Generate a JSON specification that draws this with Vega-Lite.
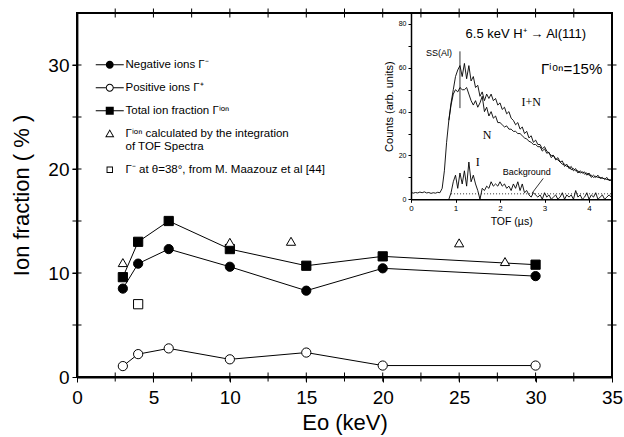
{
  "$schema": "https://vega.github.io/schema/vega-lite/v6.json",
  "width": 535,
  "height": 364,
  "autosize": "none",
  "padding": {"left": 77, "top": 13, "right": 12, "bottom": 60},
  "background": "white",
  "config": {
    "view": {"stroke": "black", "strokeWidth": 2},
    "font": "Liberation Sans",
    "axis": {"grid": false, "domainColor": "black", "domainWidth": 1.8, "tickColor": "black", "tickWidth": 1, "labelColor": "black", "titleColor": "black", "titleFontWeight": "normal", "labelFont": "Liberation Sans", "titleFont": "Liberation Sans", "labelFlush": false, "labelOverlap": false}
  },
  "datasets": {
    "main": [
      {"E": 3, "f": 8.5, "s": "neg"}, {"E": 4, "f": 10.9, "s": "neg"}, {"E": 6, "f": 12.3, "s": "neg"}, {"E": 10, "f": 10.6, "s": "neg"}, {"E": 15, "f": 8.3, "s": "neg"}, {"E": 20, "f": 10.45, "s": "neg"}, {"E": 30, "f": 9.7, "s": "neg"},
      {"E": 3, "f": 1.05, "s": "pos"}, {"E": 4, "f": 2.2, "s": "pos"}, {"E": 6, "f": 2.75, "s": "pos"}, {"E": 10, "f": 1.7, "s": "pos"}, {"E": 15, "f": 2.35, "s": "pos"}, {"E": 20, "f": 1.1, "s": "pos"}, {"E": 30, "f": 1.1, "s": "pos"},
      {"E": 3, "f": 9.6, "s": "tot"}, {"E": 4, "f": 13.0, "s": "tot"}, {"E": 6, "f": 15.0, "s": "tot"}, {"E": 10, "f": 12.3, "s": "tot"}, {"E": 15, "f": 10.7, "s": "tot"}, {"E": 20, "f": 11.6, "s": "tot"}, {"E": 30, "f": 10.8, "s": "tot"},
      {"E": 3, "f": 11.0, "s": "tof"}, {"E": 10, "f": 12.95, "s": "tof"}, {"E": 14, "f": 13.05, "s": "tof"}, {"E": 25, "f": 12.9, "s": "tof"}, {"E": 28, "f": 11.1, "s": "tof"},
      {"E": 4, "f": 7.0, "s": "maz"}
    ],
    "frame": [
      {"a": 0, "b": 35, "a2": 35, "b2": 35},
      {"a": 35, "b": 0, "a2": 35, "b2": 35}
    ],
    "xt": [{"v": 2.5}, {"v": 5}, {"v": 7.5}, {"v": 10}, {"v": 12.5}, {"v": 15}, {"v": 17.5}, {"v": 20}, {"v": 22.5}, {"v": 25}, {"v": 27.5}, {"v": 30}, {"v": 32.5}],
    "yt": [{"v": 5}, {"v": 10}, {"v": 15}, {"v": 20}, {"v": 25}, {"v": 30}],
    "spec": [
      {"t": 0, "c": 3.2, "k": "IN"}, {"t": 0.05, "c": 2.8, "k": "IN"}, {"t": 0.1, "c": 3.1, "k": "IN"}, {"t": 0.15, "c": 2.9, "k": "IN"}, {"t": 0.2, "c": 3.3, "k": "IN"}, {"t": 0.25, "c": 3.0, "k": "IN"}, {"t": 0.3, "c": 3.4, "k": "IN"}, {"t": 0.35, "c": 2.9, "k": "IN"}, {"t": 0.4, "c": 3.1, "k": "IN"}, {"t": 0.45, "c": 2.7, "k": "IN"}, {"t": 0.5, "c": 3.0, "k": "IN"}, {"t": 0.55, "c": 2.8, "k": "IN"}, {"t": 0.6, "c": 3.2, "k": "IN"}, {"t": 0.65, "c": 3.0, "k": "IN"}, {"t": 0.7, "c": 5, "k": "IN"}, {"t": 0.75, "c": 13, "k": "IN"}, {"t": 0.8, "c": 26, "k": "IN"}, {"t": 0.85, "c": 36, "k": "IN"}, {"t": 0.9, "c": 44, "k": "IN"}, {"t": 0.95, "c": 50, "k": "IN"}, {"t": 1.0, "c": 56, "k": "IN"}, {"t": 1.05, "c": 59, "k": "IN"}, {"t": 1.1, "c": 61, "k": "IN"}, {"t": 1.15, "c": 56, "k": "IN"}, {"t": 1.2, "c": 62, "k": "IN"}, {"t": 1.25, "c": 55, "k": "IN"}, {"t": 1.3, "c": 61, "k": "IN"}, {"t": 1.35, "c": 54, "k": "IN"}, {"t": 1.4, "c": 56, "k": "IN"}, {"t": 1.45, "c": 51, "k": "IN"}, {"t": 1.5, "c": 52, "k": "IN"}, {"t": 1.55, "c": 47, "k": "IN"}, {"t": 1.6, "c": 49, "k": "IN"}, {"t": 1.65, "c": 45, "k": "IN"}, {"t": 1.7, "c": 48, "k": "IN"}, {"t": 1.75, "c": 46, "k": "IN"}, {"t": 1.8, "c": 48, "k": "IN"}, {"t": 1.85, "c": 45, "k": "IN"}, {"t": 1.9, "c": 46, "k": "IN"}, {"t": 1.95, "c": 43, "k": "IN"}, {"t": 2.0, "c": 44, "k": "IN"}, {"t": 2.05, "c": 41, "k": "IN"}, {"t": 2.1, "c": 42, "k": "IN"}, {"t": 2.15, "c": 39, "k": "IN"}, {"t": 2.2, "c": 40, "k": "IN"}, {"t": 2.25, "c": 37, "k": "IN"}, {"t": 2.3, "c": 36, "k": "IN"}, {"t": 2.35, "c": 34, "k": "IN"}, {"t": 2.4, "c": 35, "k": "IN"}, {"t": 2.45, "c": 32, "k": "IN"}, {"t": 2.5, "c": 33, "k": "IN"}, {"t": 2.55, "c": 30, "k": "IN"}, {"t": 2.6, "c": 31, "k": "IN"}, {"t": 2.65, "c": 28, "k": "IN"}, {"t": 2.7, "c": 29, "k": "IN"}, {"t": 2.75, "c": 26, "k": "IN"}, {"t": 2.8, "c": 27, "k": "IN"}, {"t": 2.85, "c": 25, "k": "IN"}, {"t": 2.9, "c": 25, "k": "IN"}, {"t": 2.95, "c": 23, "k": "IN"}, {"t": 3.0, "c": 24, "k": "IN"}, {"t": 3.05, "c": 22, "k": "IN"}, {"t": 3.1, "c": 21, "k": "IN"}, {"t": 3.15, "c": 20, "k": "IN"}, {"t": 3.2, "c": 20, "k": "IN"}, {"t": 3.25, "c": 18, "k": "IN"}, {"t": 3.3, "c": 19, "k": "IN"}, {"t": 3.35, "c": 17, "k": "IN"}, {"t": 3.4, "c": 17.5, "k": "IN"}, {"t": 3.45, "c": 15, "k": "IN"}, {"t": 3.5, "c": 16, "k": "IN"}, {"t": 3.55, "c": 14, "k": "IN"}, {"t": 3.6, "c": 15, "k": "IN"}, {"t": 3.65, "c": 13, "k": "IN"}, {"t": 3.7, "c": 14, "k": "IN"}, {"t": 3.75, "c": 12, "k": "IN"}, {"t": 3.8, "c": 13, "k": "IN"}, {"t": 3.85, "c": 12, "k": "IN"}, {"t": 3.9, "c": 12.5, "k": "IN"}, {"t": 3.95, "c": 11, "k": "IN"}, {"t": 4.0, "c": 12, "k": "IN"}, {"t": 4.05, "c": 10, "k": "IN"}, {"t": 4.1, "c": 11, "k": "IN"}, {"t": 4.15, "c": 10, "k": "IN"}, {"t": 4.2, "c": 11, "k": "IN"}, {"t": 4.25, "c": 9.5, "k": "IN"}, {"t": 4.3, "c": 10, "k": "IN"}, {"t": 4.35, "c": 9, "k": "IN"}, {"t": 4.4, "c": 10, "k": "IN"}, {"t": 4.45, "c": 8.5, "k": "IN"}, {"t": 4.5, "c": 9, "k": "IN"},
      {"t": 0.85, "c": 36, "k": "N"}, {"t": 0.9, "c": 43, "k": "N"}, {"t": 0.95, "c": 48, "k": "N"}, {"t": 1.0, "c": 50, "k": "N"}, {"t": 1.05, "c": 49, "k": "N"}, {"t": 1.1, "c": 51, "k": "N"}, {"t": 1.15, "c": 50, "k": "N"}, {"t": 1.2, "c": 50, "k": "N"}, {"t": 1.25, "c": 51, "k": "N"}, {"t": 1.3, "c": 48, "k": "N"}, {"t": 1.35, "c": 45, "k": "N"}, {"t": 1.4, "c": 43, "k": "N"}, {"t": 1.45, "c": 45, "k": "N"}, {"t": 1.5, "c": 42, "k": "N"}, {"t": 1.55, "c": 44, "k": "N"}, {"t": 1.6, "c": 47, "k": "N"}, {"t": 1.65, "c": 40, "k": "N"}, {"t": 1.7, "c": 42, "k": "N"}, {"t": 1.75, "c": 38, "k": "N"}, {"t": 1.8, "c": 40, "k": "N"}, {"t": 1.85, "c": 37, "k": "N"}, {"t": 1.9, "c": 38, "k": "N"}, {"t": 1.95, "c": 35, "k": "N"}, {"t": 2.0, "c": 35, "k": "N"}, {"t": 2.05, "c": 34, "k": "N"}, {"t": 2.1, "c": 33, "k": "N"}, {"t": 2.15, "c": 33.5, "k": "N"}, {"t": 2.2, "c": 32, "k": "N"}, {"t": 2.25, "c": 32, "k": "N"}, {"t": 2.3, "c": 31, "k": "N"}, {"t": 2.35, "c": 31, "k": "N"}, {"t": 2.4, "c": 30, "k": "N"}, {"t": 2.45, "c": 30, "k": "N"}, {"t": 2.5, "c": 29, "k": "N"}, {"t": 2.55, "c": 28, "k": "N"}, {"t": 2.6, "c": 27.5, "k": "N"}, {"t": 2.65, "c": 26.5, "k": "N"}, {"t": 2.7, "c": 26, "k": "N"}, {"t": 2.75, "c": 25, "k": "N"}, {"t": 2.8, "c": 25, "k": "N"}, {"t": 2.85, "c": 24, "k": "N"}, {"t": 2.9, "c": 24, "k": "N"}, {"t": 2.95, "c": 22, "k": "N"}, {"t": 3.0, "c": 23, "k": "N"}, {"t": 3.05, "c": 21, "k": "N"}, {"t": 3.1, "c": 21.5, "k": "N"}, {"t": 3.15, "c": 19, "k": "N"}, {"t": 3.2, "c": 20, "k": "N"}, {"t": 3.25, "c": 18.5, "k": "N"}, {"t": 3.3, "c": 18, "k": "N"}, {"t": 3.35, "c": 17, "k": "N"}, {"t": 3.4, "c": 16, "k": "N"}, {"t": 3.45, "c": 16, "k": "N"}, {"t": 3.5, "c": 15, "k": "N"}, {"t": 3.55, "c": 15, "k": "N"}, {"t": 3.6, "c": 13.5, "k": "N"}, {"t": 3.65, "c": 14, "k": "N"}, {"t": 3.7, "c": 13, "k": "N"}, {"t": 3.75, "c": 13, "k": "N"}, {"t": 3.8, "c": 12, "k": "N"}, {"t": 3.85, "c": 12.5, "k": "N"}, {"t": 3.9, "c": 11.5, "k": "N"}, {"t": 3.95, "c": 12, "k": "N"}, {"t": 4.0, "c": 11, "k": "N"}, {"t": 4.05, "c": 11, "k": "N"}, {"t": 4.1, "c": 10, "k": "N"}, {"t": 4.15, "c": 10.5, "k": "N"}, {"t": 4.2, "c": 10, "k": "N"}, {"t": 4.25, "c": 10, "k": "N"}, {"t": 4.3, "c": 9.5, "k": "N"}, {"t": 4.35, "c": 9.5, "k": "N"}, {"t": 4.4, "c": 9, "k": "N"}, {"t": 4.45, "c": 9, "k": "N"}, {"t": 4.5, "c": 8.5, "k": "N"},
      {"t": 0.85, "c": 0, "k": "I"}, {"t": 0.9, "c": 3, "k": "I"}, {"t": 0.95, "c": 8, "k": "I"}, {"t": 1.0, "c": 11, "k": "I"}, {"t": 1.05, "c": 5, "k": "I"}, {"t": 1.1, "c": 12, "k": "I"}, {"t": 1.15, "c": 7, "k": "I"}, {"t": 1.2, "c": 13, "k": "I"}, {"t": 1.25, "c": 6, "k": "I"}, {"t": 1.3, "c": 17, "k": "I"}, {"t": 1.35, "c": 8, "k": "I"}, {"t": 1.4, "c": 11, "k": "I"}, {"t": 1.45, "c": 7, "k": "I"}, {"t": 1.5, "c": 4, "k": "I"}, {"t": 1.55, "c": 0, "k": "I"}, {"t": 1.6, "c": 5, "k": "I"}, {"t": 1.65, "c": 4, "k": "I"}, {"t": 1.7, "c": 6, "k": "I"}, {"t": 1.75, "c": 5, "k": "I"}, {"t": 1.8, "c": 8, "k": "I"}, {"t": 1.85, "c": 6, "k": "I"}, {"t": 1.9, "c": 7, "k": "I"}, {"t": 1.95, "c": 6, "k": "I"}, {"t": 2.0, "c": 8, "k": "I"}, {"t": 2.05, "c": 6, "k": "I"}, {"t": 2.1, "c": 7, "k": "I"}, {"t": 2.15, "c": 5, "k": "I"}, {"t": 2.2, "c": 6, "k": "I"}, {"t": 2.25, "c": 4, "k": "I"}, {"t": 2.3, "c": 7, "k": "I"}, {"t": 2.35, "c": 5, "k": "I"}, {"t": 2.4, "c": 8, "k": "I"}, {"t": 2.45, "c": 4, "k": "I"}, {"t": 2.5, "c": 7, "k": "I"}, {"t": 2.55, "c": 3, "k": "I"}, {"t": 2.6, "c": 4, "k": "I"}, {"t": 2.65, "c": 2, "k": "I"}, {"t": 2.7, "c": 1, "k": "I"}, {"t": 2.75, "c": 3, "k": "I"}, {"t": 2.8, "c": 2, "k": "I"}, {"t": 2.85, "c": 1, "k": "I"}, {"t": 2.9, "c": 2, "k": "I"}, {"t": 2.95, "c": 0, "k": "I"}, {"t": 3.0, "c": 3, "k": "I"}, {"t": 3.05, "c": 1, "k": "I"}, {"t": 3.1, "c": 2, "k": "I"}, {"t": 3.15, "c": 0, "k": "I"}, {"t": 3.2, "c": 1, "k": "I"}, {"t": 3.25, "c": 2, "k": "I"}, {"t": 3.3, "c": 0, "k": "I"}, {"t": 3.35, "c": 1, "k": "I"}, {"t": 3.4, "c": 3, "k": "I"}, {"t": 3.45, "c": 0, "k": "I"}, {"t": 3.5, "c": 2, "k": "I"}, {"t": 3.55, "c": 1, "k": "I"}, {"t": 3.6, "c": 2, "k": "I"}, {"t": 3.65, "c": 0, "k": "I"}, {"t": 3.7, "c": 4, "k": "I"}, {"t": 3.75, "c": 1, "k": "I"}, {"t": 3.8, "c": 2, "k": "I"}, {"t": 3.85, "c": 0, "k": "I"}, {"t": 3.9, "c": 1, "k": "I"}, {"t": 3.95, "c": 3, "k": "I"}, {"t": 4.0, "c": 0, "k": "I"}, {"t": 4.05, "c": 2, "k": "I"}, {"t": 4.1, "c": 1, "k": "I"}, {"t": 4.15, "c": 3, "k": "I"}, {"t": 4.2, "c": 0, "k": "I"}, {"t": 4.25, "c": 1, "k": "I"}, {"t": 4.3, "c": 2, "k": "I"}, {"t": 4.35, "c": 0, "k": "I"}, {"t": 4.4, "c": 1, "k": "I"}, {"t": 4.45, "c": 2, "k": "I"}, {"t": 4.5, "c": 1, "k": "I"}
    ],
    "bg": [{"t": 0.9, "c": 2.5}, {"t": 4.5, "c": 2.5}],
    "rules": [
      {"t": 1.1, "c": 41.6, "t2": 1.1, "c2": 67.5},
      {"t": 2.97, "c": 9.5, "t2": 2.72, "c2": 2.8}
    ],
    "notes": [
      {"t": 2.58, "c": 75.5, "txt": "6.5 keV H⁺ → Al(111)", "g": "big"},
      {"t": 3.61, "c": 59.5, "txt": "Γⁱᵒⁿ=15%", "g": "big2"},
      {"t": 0.63, "c": 66.7, "txt": "SS(Al)", "g": "small"},
      {"t": 2.6, "c": 12.3, "txt": "Background", "g": "small"},
      {"t": 2.7, "c": 44.2, "txt": "I+N", "g": "serif"},
      {"t": 1.71, "c": 29.4, "txt": "N", "g": "serif"},
      {"t": 1.5, "c": 17.2, "txt": "I", "g": "serif"}
    ]
  },
  "layer": [
    {
      "data": {"name": "main"},
      "transform": [{"filter": "indexof(['neg','pos','tot'], datum.s) >= 0"}],
      "mark": {"type": "line", "color": "black", "strokeWidth": 1},
      "encoding": {
        "x": {"field": "E", "type": "quantitative", "scale": {"domain": [0, 35], "nice": false, "zero": false},
          "axis": {"orient": "bottom", "domain": true, "domainColor": "black", "domainWidth": 1.8, "domainOpacity": 1, "ticks": true, "tickSize": 5, "tickColor": "black",
            "values": [0, 5, 10, 15, 20, 25, 30, 35],
            "labelFontSize": 19, "labelPadding": 6, "title": "Eo (keV)", "titleFontSize": 22, "titlePadding": 5}},
        "y": {"field": "f", "type": "quantitative", "scale": {"domain": [0, 35], "nice": false, "zero": false},
          "axis": {"orient": "left", "domain": true, "domainColor": "black", "domainWidth": 1.8, "domainOpacity": 1, "ticks": true, "tickColor": "black", "tickWidth": 1, "tickOpacity": 1, "tickSize": 5,
            "values": [0, 10, 20, 30],
            "labelFontSize": 19, "labelPadding": 3, "title": "Ion fraction ( % )", "titleFontSize": 22, "titlePadding": 14}},
        "detail": {"field": "s", "type": "nominal"}
      }
    },
    {
      "data": {"name": "frame"},
      "mark": {"type": "rule", "color": "black", "strokeWidth": 2},
      "encoding": {
        "x": {"field": "a", "type": "quantitative", "scale": {"domain": [0, 35], "nice": false, "zero": false}, "axis": null},
        "y": {"field": "b", "type": "quantitative", "scale": {"domain": [0, 35], "nice": false, "zero": false}, "axis": null},
        "x2": {"field": "a2"},
        "y2": {"field": "b2"}
      }
    },
    {
      "data": {"name": "xt"},
      "mark": {"type": "tick", "color": "black", "orient": "vertical", "thickness": 1, "size": 9, "opacity": 1},
      "encoding": {
        "x": {"field": "v", "type": "quantitative", "scale": {"domain": [0, 35], "nice": false, "zero": false}, "axis": null},
        "y": {"datum": 0, "type": "quantitative", "scale": {"domain": [0, 35], "nice": false, "zero": false}, "axis": null}
      }
    },
    {
      "data": {"name": "xt"},
      "mark": {"type": "tick", "color": "black", "orient": "vertical", "thickness": 1, "size": 9, "opacity": 1},
      "encoding": {
        "x": {"field": "v", "type": "quantitative", "scale": {"domain": [0, 35], "nice": false, "zero": false}, "axis": null},
        "y": {"datum": 35, "type": "quantitative", "scale": {"domain": [0, 35], "nice": false, "zero": false}, "axis": null}
      }
    },
    {
      "data": {"name": "yt"},
      "mark": {"type": "tick", "color": "black", "orient": "horizontal", "thickness": 1, "size": 9, "opacity": 1},
      "encoding": {
        "y": {"field": "v", "type": "quantitative", "scale": {"domain": [0, 35], "nice": false, "zero": false}, "axis": null},
        "x": {"datum": 0, "type": "quantitative", "scale": {"domain": [0, 35], "nice": false, "zero": false}, "axis": null}
      }
    },
    {
      "data": {"name": "yt"},
      "mark": {"type": "tick", "color": "black", "orient": "horizontal", "thickness": 1, "size": 9, "opacity": 1},
      "encoding": {
        "y": {"field": "v", "type": "quantitative", "scale": {"domain": [0, 35], "nice": false, "zero": false}, "axis": null},
        "x": {"datum": 35, "type": "quantitative", "scale": {"domain": [0, 35], "nice": false, "zero": false}, "axis": null}
      }
    },
    {
      "data": {"name": "main"},
      "mark": {"type": "point", "filled": true, "stroke": "black", "strokeWidth": 1, "opacity": 1},
      "encoding": {
        "x": {"field": "E", "type": "quantitative", "scale": {"domain": [0, 35], "nice": false, "zero": false}, "axis": null},
        "y": {"field": "f", "type": "quantitative", "scale": {"domain": [0, 35], "nice": false, "zero": false}, "axis": null},
        "shape": {"field": "s", "type": "nominal", "legend": null, "scale": {"domain": ["neg", "pos", "tot", "tof", "maz"], "range": ["circle", "circle", "square", "triangle-up", "square"]}},
        "fill": {"field": "s", "type": "nominal", "legend": null, "scale": {"domain": ["neg", "pos", "tot", "tof", "maz"], "range": ["black", "white", "black", "white", "white"]}},
        "size": {"field": "s", "type": "nominal", "legend": null, "scale": {"domain": ["neg", "pos", "tot", "tof", "maz"], "range": [85, 85, 64, 100, 56]}}
      }
    },
    {
      "data": {"name": "main"},
      "mark": {"type": "point", "filled": true, "color": "black", "opacity": 0},
      "encoding": {
        "x": {"field": "E", "type": "quantitative", "scale": {"domain": [0, 35], "nice": false, "zero": false}, "axis": null},
        "y": {"field": "f", "type": "quantitative", "scale": {"domain": [0, 35], "nice": false, "zero": false}, "axis": null},
        "shape": {"field": "s", "type": "nominal",
          "scale": {"domain": ["neg", "pos", "tot", "tof", "maz"],
            "range": [
              "M-3.5,-0.13H-1V0.13H-3.5ZM1,-0.13H3.5V0.13H1ZM-1,0A1,1,0,1,1,1,0A1,1,0,1,1,-1,0Z",
              "M-3.5,-0.13H-1V0.13H-3.5ZM1,-0.13H3.5V0.13H1ZM-1,0A1,1,0,1,1,1,0A1,1,0,1,1,-1,0ZM-0.75,0A0.75,0.75,0,1,0,0.75,0A0.75,0.75,0,1,0,-0.75,0Z",
              "M-3.5,-0.13H-1V0.13H-3.5ZM1,-0.13H3.5V0.13H1ZM-1,-1H1V1H-1Z",
              "M0,-1.15L1.15,0.85L-1.15,0.85ZM0,-0.68L-0.75,0.62L0.75,0.62Z",
              "M-0.8,-0.8H0.8V0.8H-0.8ZM-0.56,-0.56V0.56H0.56V-0.56Z"
            ]},
          "legend": {"orient": "none", "legendX": 27, "legendY": 46, "title": null, "symbolSize": 64, "symbolOpacity": 1,
            "symbolFillColor": "black", "symbolStrokeColor": "transparent", "symbolStrokeWidth": 0,
            "labelFontSize": 11.5, "labelFont": "Liberation Sans", "labelColor": "black", "labelOffset": 10,
            "rowPadding": 10, "padding": 0, "labelLimit": 0,
            "labelExpr": "datum.value == 'neg' ? 'Negative ions Γ⁻' : datum.value == 'pos' ? 'Positive ions Γ⁺' : datum.value == 'tot' ? 'Total ion fraction Γⁱᵒⁿ' : datum.value == 'tof' ? ['Γⁱᵒⁿ calculated by the integration', '\u00a0\u00a0\u00a0\u00a0\u00a0\u00a0\u00a0of TOF Spectra'] : 'Γ⁻ at θ=38°, from M. Maazouz et al [44]'"}}
      }
    },
    {
      "data": {"name": "spec"},
      "mark": {"type": "line", "color": "black", "strokeWidth": 0.9},
      "encoding": {
        "x": {"field": "t", "type": "quantitative", "scale": {"domain": [0, 4.5], "range": [334, 534.3], "nice": false, "zero": false},
          "axis": {"orient": "bottom", "offset": -177.7, "domain": true, "domainColor": "black", "domainOpacity": 1, "ticks": true, "tickColor": "black", "tickWidth": 1, "tickOpacity": 1, "values": [0, 1, 2, 3, 4], "labelFontSize": 8, "labelPadding": 2, "tickSize": 3, "domainWidth": 1.5, "title": "TOF (µs)", "titleFontSize": 10.5, "titlePadding": 4}},
        "y": {"field": "c", "type": "quantitative", "scale": {"domain": [0, 85], "range": [186.3, 0], "nice": false, "zero": false},
          "axis": {"orient": "left", "offset": -334, "domain": true, "domainColor": "black", "domainOpacity": 1, "ticks": true, "tickColor": "black", "tickWidth": 1, "tickOpacity": 1, "values": [0, 10, 20, 30, 40, 50, 60, 70, 80], "labelExpr": "datum.value % 20 == 0 ? datum.label : ''", "labelFontSize": 7, "labelPadding": 2, "tickSize": 3, "domainWidth": 1.5, "title": "Counts (arb. units)", "titleFontSize": 11, "titlePadding": 4}},
        "detail": {"field": "k", "type": "nominal"}
      }
    },
    {
      "data": {"name": "bg"},
      "mark": {"type": "line", "color": "black", "strokeWidth": 0.8, "strokeDash": [1, 2]},
      "encoding": {
        "x": {"field": "t", "type": "quantitative", "scale": {"domain": [0, 4.5], "range": [334, 534.3], "nice": false, "zero": false}, "axis": null},
        "y": {"field": "c", "type": "quantitative", "scale": {"domain": [0, 85], "range": [186.3, 0], "nice": false, "zero": false}, "axis": null}
      }
    },
    {
      "data": {"name": "rules"},
      "mark": {"type": "rule", "color": "black", "strokeWidth": 0.8},
      "encoding": {
        "x": {"field": "t", "type": "quantitative", "scale": {"domain": [0, 4.5], "range": [334, 534.3], "nice": false, "zero": false}, "axis": null},
        "y": {"field": "c", "type": "quantitative", "scale": {"domain": [0, 85], "range": [186.3, 0], "nice": false, "zero": false}, "axis": null},
        "x2": {"field": "t2"},
        "y2": {"field": "c2"}
      }
    },
    {
      "data": {"name": "notes"},
      "transform": [{"filter": "datum.g == 'big'"}],
      "mark": {"type": "text", "color": "black", "font": "Liberation Sans", "fontSize": 13},
      "encoding": {
        "x": {"field": "t", "type": "quantitative", "scale": {"domain": [0, 4.5], "range": [334, 534.3], "nice": false, "zero": false}, "axis": null},
        "y": {"field": "c", "type": "quantitative", "scale": {"domain": [0, 85], "range": [186.3, 0], "nice": false, "zero": false}, "axis": null},
        "text": {"field": "txt"}
      }
    },
    {
      "data": {"name": "notes"},
      "transform": [{"filter": "datum.g == 'big2'"}],
      "mark": {"type": "text", "color": "black", "font": "Liberation Sans", "fontSize": 15},
      "encoding": {
        "x": {"field": "t", "type": "quantitative", "scale": {"domain": [0, 4.5], "range": [334, 534.3], "nice": false, "zero": false}, "axis": null},
        "y": {"field": "c", "type": "quantitative", "scale": {"domain": [0, 85], "range": [186.3, 0], "nice": false, "zero": false}, "axis": null},
        "text": {"field": "txt"}
      }
    },
    {
      "data": {"name": "notes"},
      "transform": [{"filter": "datum.g == 'small'"}],
      "mark": {"type": "text", "color": "black", "font": "Liberation Sans", "fontSize": 9},
      "encoding": {
        "x": {"field": "t", "type": "quantitative", "scale": {"domain": [0, 4.5], "range": [334, 534.3], "nice": false, "zero": false}, "axis": null},
        "y": {"field": "c", "type": "quantitative", "scale": {"domain": [0, 85], "range": [186.3, 0], "nice": false, "zero": false}, "axis": null},
        "text": {"field": "txt"}
      }
    },
    {
      "data": {"name": "notes"},
      "transform": [{"filter": "datum.g == 'serif'"}],
      "mark": {"type": "text", "color": "black", "font": "Liberation Serif", "fontSize": 12},
      "encoding": {
        "x": {"field": "t", "type": "quantitative", "scale": {"domain": [0, 4.5], "range": [334, 534.3], "nice": false, "zero": false}, "axis": null},
        "y": {"field": "c", "type": "quantitative", "scale": {"domain": [0, 85], "range": [186.3, 0], "nice": false, "zero": false}, "axis": null},
        "text": {"field": "txt"}
      }
    }
  ],
  "resolve": {"scale": {"x": "independent", "y": "independent", "shape": "independent"}, "axis": {"x": "independent", "y": "independent"}}
}
